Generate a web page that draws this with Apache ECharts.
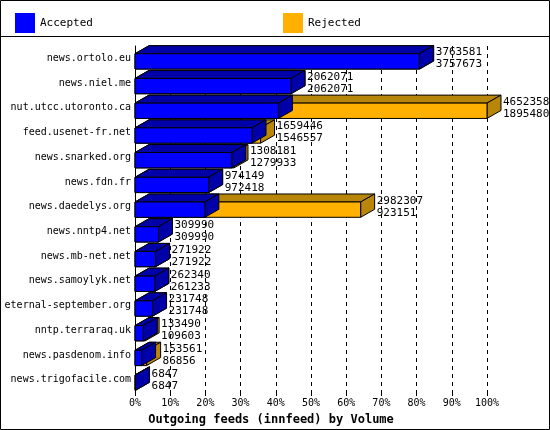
<!DOCTYPE html>
<html>
<head>
<meta charset="utf-8">
<script src="https://cdn.jsdelivr.net/npm/echarts@6/dist/echarts.min.js"></script>
<style>html,body{margin:0;padding:0;background:#fff}#main{width:550px;height:430px}</style>
</head>
<body>
<div id="main"></div>
<script>
var hosts = ['news.ortolo.eu', 'news.niel.me', 'nut.utcc.utoronto.ca', 'feed.usenet-fr.net',
  'news.snarked.org', 'news.fdn.fr', 'news.daedelys.org', 'news.nntp4.net', 'news.mb-net.net',
  'news.samoylyk.net', 'eternal-september.org', 'nntp.terraraq.uk', 'news.pasdenom.info',
  'news.trigofacile.com'];
var offered = [3763581, 2062071, 4652358, 1659446, 1308181, 974149, 2982307, 309990, 271922,
  262340, 231748, 133490, 153561, 6847];
var accepted = [3757673, 2062071, 1895480, 1546557, 1279933, 972418, 923151, 309990, 271922,
  261233, 231748, 109603, 86856, 6847];

var maxVal = Math.max.apply(null, offered);
var rows = hosts.map(function (h, i) {
  return [i, offered[i] / maxVal * 100, accepted[i] / maxVal * 100, offered[i], accepted[i]];
});

var DX = 14, DY = 8;
var font = '11px "DejaVu Sans Mono", monospace';

function box(x0, x1, yc, h, front, dark) {
  var y0 = yc - h / 2, y1 = yc + h / 2;
  var st = { stroke: '#000', lineWidth: 1 };
  return [
    { type: 'polygon', shape: { points: [[x0, y0], [x0 + DX, y0 - DY], [x1 + DX, y0 - DY], [x1, y0]] },
      style: Object.assign({ fill: dark }, st) },
    { type: 'polygon', shape: { points: [[x1, y0], [x1 + DX, y0 - DY], [x1 + DX, y1 - DY], [x1, y1]] },
      style: Object.assign({ fill: dark }, st) },
    { type: 'rect', shape: { x: x0, y: y0, width: x1 - x0, height: h },
      style: Object.assign({ fill: front }, st) }
  ];
}

function makeRender(which) {
  return function (params, api) {
    var i = api.value(0);
    var h = api.size([0, 1])[1] * 0.62;
    var p0 = api.coord([0, i]);
    if (which === 'rej') {
      var pe = api.coord([api.value(1), i]);
      return { type: 'group', children: box(p0[0], pe[0], p0[1] + 3, h, '#ffb000', '#b8860b') };
    }
    var pa = api.coord([api.value(2), i]);
    var po = api.coord([api.value(1), i]);
    var kids = box(p0[0], pa[0], p0[1] + 3, h, '#0000ff', '#0000a8');
    var tx = po[0] + DX + 2;
    kids.push({ type: 'text', style: { x: tx, y: p0[1] - 6, text: String(api.value(3)), font: font,
      fill: '#000', verticalAlign: 'middle' } });
    kids.push({ type: 'text', style: { x: tx, y: p0[1] + 6, text: String(api.value(4)), font: font,
      fill: '#000', verticalAlign: 'middle' } });
    return { type: 'group', children: kids };
  };
}

var chart = echarts.init(document.getElementById('main'));
chart.setOption({
  backgroundColor: '#fff',
  animation: false,
  textStyle: { fontFamily: '"DejaVu Sans Mono", monospace' },
  graphic: [
    { type: 'rect', shape: { x: 0.5, y: 0.5, width: 549, height: 429 }, style: { fill: 'none', stroke: '#000', lineWidth: 1 } },
    { type: 'line', shape: { x1: 0, y1: 36.5, x2: 550, y2: 36.5 }, style: { stroke: '#000', lineWidth: 1 } }
  ],
  legend: {
    data: ['Accepted', 'Rejected'], left: 10, top: 8, itemGap: 190,
    itemWidth: 20, itemHeight: 20, icon: 'rect',
    textStyle: { fontSize: 11, color: '#000', fontFamily: '"DejaVu Sans Mono", monospace' }
  },
  grid: { left: 135, right: 63, top: 46, bottom: 38, containLabel: false, outerBoundsMode: 'none' },
  xAxis: {
    type: 'value', min: 0, max: 100, interval: 10,
    name: 'Outgoing feeds (innfeed) by Volume', nameLocation: 'middle', nameGap: 22,
    nameTextStyle: { fontWeight: 'bold', fontSize: 12, color: '#000', padding: [0, 80, 0, 0] },
    axisLine: { lineStyle: { color: '#000' } },
    axisTick: { show: true, length: 4, lineStyle: { color: '#000' } },
    axisLabel: { formatter: '{value}%', color: '#000', fontSize: 10, margin: 6 },
    splitLine: { show: true, lineStyle: { color: '#000', type: [4, 4] } }
  },
  yAxis: {
    type: 'category', data: hosts, inverse: true,
    axisLine: { lineStyle: { color: '#000' } },
    axisTick: { show: false },
    axisLabel: { color: '#000', fontSize: 10, margin: 4 }
  },
  series: [
    { name: 'Rejected', type: 'custom', renderItem: makeRender('rej'), data: rows,
      itemStyle: { color: '#ffb000', borderColor: '#000' }, encode: { x: 1, y: 0 } },
    { name: 'Accepted', type: 'custom', renderItem: makeRender('acc'), data: rows,
      itemStyle: { color: '#0000ff', borderColor: '#000' }, encode: { x: 2, y: 0 } }
  ]
});
</script>
</body>
</html>
